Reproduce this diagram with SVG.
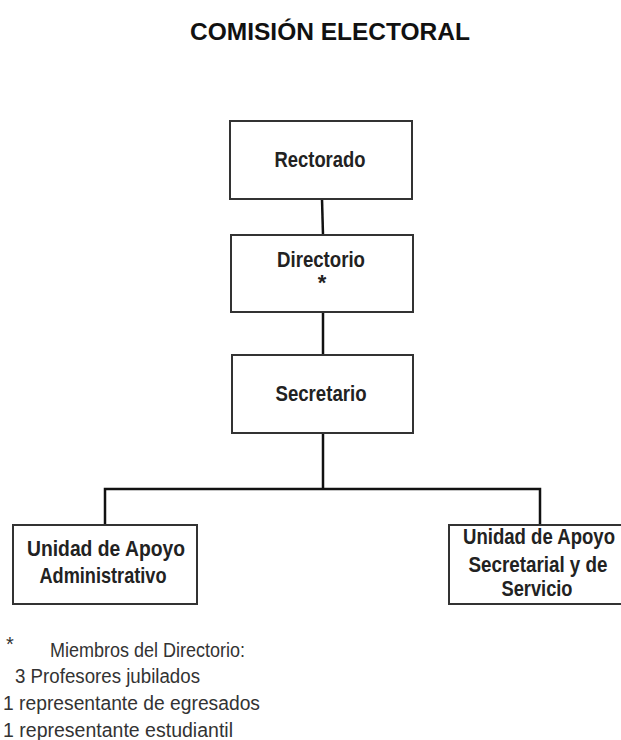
<svg xmlns="http://www.w3.org/2000/svg" width="621" height="740" viewBox="0 0 621 740">
<style>
.box{fill:#fff;stroke:#333;stroke-width:2}
.lbl{font-family:"Liberation Sans",Arial,sans-serif;font-weight:bold;font-size:22px;fill:#222;text-anchor:middle}
.conn{stroke:#111;stroke-width:2.5;fill:none}
.note{font-family:"Liberation Sans",Arial,sans-serif;font-size:20px;fill:#333}
.title{font-family:"Liberation Sans",Arial,sans-serif;font-weight:bold;font-size:24.5px;fill:#111;text-anchor:middle}
</style>
<rect width="621" height="740" fill="#fff"/>
<text class="title" x="330" y="40">COMISIÓN ELECTORAL</text>
<g id="connectors">
<line class="conn" x1="322" y1="199" x2="323" y2="235"/>
<line class="conn" x1="323" y1="312" x2="323" y2="355"/>
<line class="conn" x1="323" y1="433" x2="323" y2="489"/>
<polyline class="conn" points="105,525 105,489 540,489 540,528"/>
</g>
<g id="rectorado">
<rect class="box" x="230" y="121" width="182" height="78"/>
<text class="lbl" x="320" y="167" textLength="91" lengthAdjust="spacingAndGlyphs">Rectorado</text>
</g>
<g id="directorio">
<rect class="box" x="231" y="235" width="182" height="77"/>
<text class="lbl" x="321" y="267" textLength="88" lengthAdjust="spacingAndGlyphs">Directorio</text>
<text class="lbl" x="322" y="290" font-size="16">*</text>
</g>
<g id="secretario">
<rect class="box" x="232" y="355" width="181" height="78"/>
<text class="lbl" x="321" y="401" textLength="91" lengthAdjust="spacingAndGlyphs">Secretario</text>
</g>
<g id="unidad-administrativo">
<rect class="box" x="13" y="525" width="184" height="79"/>
<text class="lbl" x="106" y="556" textLength="158" lengthAdjust="spacingAndGlyphs">Unidad de Apoyo</text>
<text class="lbl" x="103" y="583" textLength="127" lengthAdjust="spacingAndGlyphs">Administrativo</text>
</g>
<g id="unidad-secretarial">
<rect class="box" x="449" y="525" width="190" height="79"/>
<text class="lbl" x="539" y="544" textLength="152" lengthAdjust="spacingAndGlyphs">Unidad de Apoyo</text>
<text class="lbl" x="538" y="572" textLength="139" lengthAdjust="spacingAndGlyphs">Secretarial y de</text>
<text class="lbl" x="537" y="596" textLength="71" lengthAdjust="spacingAndGlyphs">Servicio</text>
</g>
<g id="footnote">
<text class="note" x="6" y="651" font-size="16">*</text>
<text class="note" x="50" y="657" textLength="195" lengthAdjust="spacingAndGlyphs">Miembros del Directorio:</text>
<text class="note" x="15" y="683" textLength="185" lengthAdjust="spacingAndGlyphs">3 Profesores jubilados</text>
<text class="note" x="3" y="710" textLength="257" lengthAdjust="spacingAndGlyphs">1 representante de egresados</text>
<text class="note" x="3" y="737" textLength="230" lengthAdjust="spacingAndGlyphs">1 representante estudiantil</text>
</g>
</svg>
